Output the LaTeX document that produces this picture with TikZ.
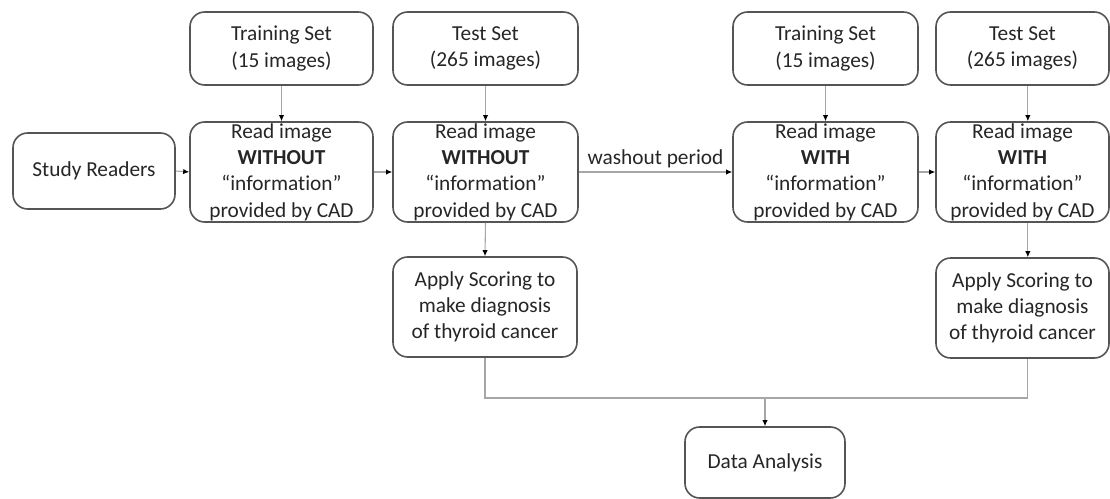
\documentclass[tikz,border=0pt]{standalone}
\usepackage{fontspec}
\setmainfont{Carlito}[Ligatures={NoCommon}]
\usetikzlibrary{arrows.meta}
\definecolor{boxgray}{HTML}{555555}
\definecolor{linegray}{HTML}{A6A6A6}
\begin{document}
\begin{tikzpicture}[x=0.75pt,y=-0.75pt,
  box/.style={draw=boxgray, line width=1.2pt, rounded corners=11pt, align=center, inner sep=0pt, text=black!85,
    font=\fontsize{16}{19.7}\selectfont},
  setbox/.style={box, minimum height=54.75pt},
  readbox/.style={box, minimum height=75pt},
  conn/.style={draw=linegray, line width=0.8pt, -{Latex[length=4.5pt,width=4pt,color=black]}},
  plainline/.style={draw=linegray, line width=0.8pt}]
\useasboundingbox (0,0) rectangle (1110,499);

\node[box, minimum width=121.5pt, minimum height=57pt] (sr) at (94,171) {Study Readers};

\node[setbox, minimum width=137.25pt] (ts1) at (281.5,48.5) {Training Set\\(15 images)};
\node[readbox, minimum width=137.25pt] (r1) at (281.5,172) {Read image\\\textbf{WITHOUT}\\“information”\\provided by CAD};

\node[setbox, minimum width=138.75pt] (ts2) at (485.5,48.5) {Test Set\\(265 images)};
\node[readbox, minimum width=138.75pt] (r2) at (485.5,172) {Read image\\\textbf{WITHOUT}\\“information”\\provided by CAD};

\node[setbox, minimum width=138.75pt] (ts3) at (825.5,48.5) {Training Set\\(15 images)};
\node[readbox, minimum width=138.75pt] (r3) at (825.5,172) {Read image\\\textbf{WITH}\\“information”\\provided by CAD};

\node[setbox, minimum width=129.75pt] (ts4) at (1022.5,48.5) {Test Set\\(265 images)};
\node[readbox, minimum width=129.75pt] (r4) at (1022.5,172) {Read image\\\textbf{WITH}\\“information”\\provided by CAD};

\node[readbox, minimum width=138pt] (a1) at (485,307) {Apply Scoring to\\make diagnosis\\of thyroid cancer};
\node[readbox, minimum width=129.75pt] (a2) at (1022.5,308) {Apply Scoring to\\make diagnosis\\of thyroid cancer};

\node[box, minimum width=120pt, minimum height=53.25pt] (da) at (765,462.5) {Data Analysis};

\draw[conn] (sr.east) -- (r1.west);
\draw[conn] (ts1.south) -- (r1.north);
\draw[conn] (r1.east) -- (r2.west);
\draw[conn] (ts2.south) -- (r2.north);
\draw[conn] (r2.east) -- node[above, font=\fontsize{16}{19}\selectfont, text=black!85, inner sep=3pt] {washout period} (r3.west);
\draw[conn] (ts3.south) -- (r3.north);
\draw[conn] (r3.east) -- (r4.west);
\draw[conn] ([xshift=4pt]ts4.south) -- ([xshift=4pt]r4.north);
\draw[conn] (r2.south) -- (a1.north);
\draw[conn] ([xshift=4pt]r4.south) -- ([xshift=4pt]a2.north);

\coordinate (j) at (765,398);
\draw[plainline] (a1.south) |- (j) -| ([xshift=4pt]a2.south);
\draw[conn] (j) -- (da.north);
\end{tikzpicture}
\end{document}
